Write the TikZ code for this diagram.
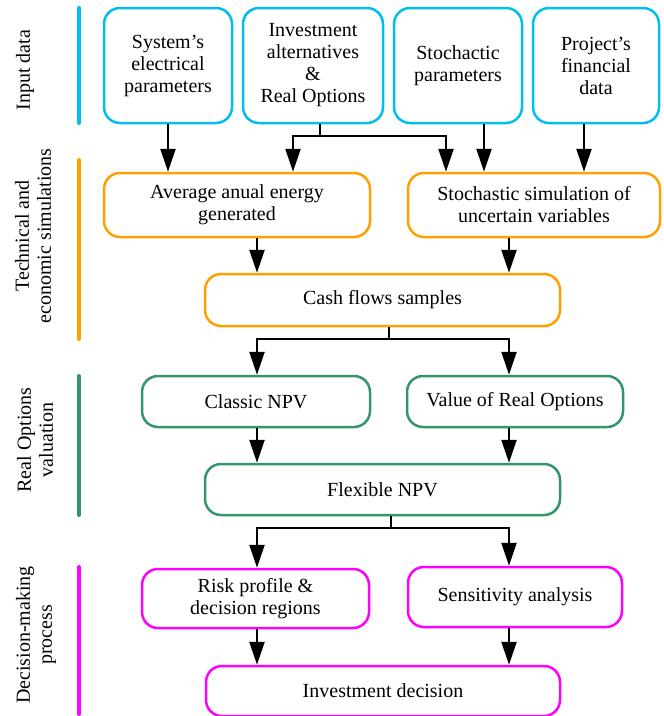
\documentclass[tikz,border=0pt]{standalone}
\usepackage{fontspec}
\setmainfont{Liberation Serif}
\newfontfamily\boxfont{Liberation Serif}
\usetikzlibrary{arrows.meta}
\definecolor{inputcyan}{RGB}{0,190,240}
\definecolor{simorange}{RGB}{255,160,0}
\definecolor{valgreen}{RGB}{52,150,104}
\definecolor{decmagenta}{RGB}{255,0,255}

\begin{document}
\begin{tikzpicture}[x=1pt, y=-1pt, >={Triangle[length=23pt,width=15pt]},
    font=\boxfont\fontsize{20}{22}\selectfont,
    box/.style={draw=#1, line width=2.5pt, rounded corners=16pt, align=center, inner sep=0pt},
    flow/.style={line width=2.4pt, ->},
    link/.style={line width=2.4pt},
    stage/.style={line width=4pt, line cap=round},
    side/.style={rotate=90, align=center}]
  \useasboundingbox (0,0) rectangle (664,716);

  % stage bars and labels
  \draw[stage, inputcyan] (79,8) -- (79,123);
  \draw[stage, simorange] (79,160) -- (79,339);
  \draw[stage, valgreen] (79,376) -- (79,515);
  \draw[stage, decmagenta] (79,567) -- (79,714);
  \node[side] (lblinput) at (25,70) {Input data};
  \node[side] (lblsim) at (33,236) {Technical and\\economic simulations};
  \node[side] (lblval) at (35,440) {Real Options\\valuation};
  \node[side] (lbldec) at (36,635) {Decision-making\\process};

  % input data
  \node[box=inputcyan, minimum width=128, minimum height=115] (sys) at (168,65.5)
    {System’s\\electrical\\parameters};
  \node[box=inputcyan, minimum width=140, minimum height=115] (inv) at (313,65.5)
    {Investment\\alternatives\\\&\\Real Options};
  \node[box=inputcyan, minimum width=128, minimum height=115] (stoch) at (458,65.5)
    {Stochactic\\parameters};
  \node[box=inputcyan, minimum width=126, minimum height=115] (fin) at (596,65.5)
    {Project’s\\financial\\data};

  % simulations
  \node[box=simorange, minimum width=266, minimum height=64] (energy) at (237,205)
    {Average anual energy\\generated};
  \node[box=simorange, minimum width=252, minimum height=64] (sim) at (534,205)
    {Stochastic simulation of\\uncertain variables};
  \node[box=simorange, minimum width=355, minimum height=52] (cash) at (382.5,300)
    {Cash flows samples};

  % valuation
  \node[box=valgreen, minimum width=228, minimum height=51] (classic) at (256,401.5)
    {Classic NPV};
  \node[box=valgreen, minimum width=216, minimum height=51] (value) at (515,401.5)
    {Value of Real Options};
  \node[box=valgreen, minimum width=355, minimum height=51] (flex) at (382.5,489.5)
    {Flexible NPV};

  % decision
  \node[box=decmagenta, minimum width=227, minimum height=59] (risk) at (255.5,598.5)
    {Risk profile \&\\decision regions};
  \node[box=decmagenta, minimum width=214, minimum height=60] (sens) at (515,597)
    {Sensitivity analysis};
  \node[box=decmagenta, minimum width=354, minimum height=50] (invest) at (383,691)
    {Investment decision};

  % connectors
  \coordinate (colL) at (257,0);
  \coordinate (colR) at (509,0);
  \coordinate (invjoin) at (320,136);
  \coordinate (cashjoin) at (389,339);
  \coordinate (flexjoin) at (391,528);

  \draw[flow] (sys.south) -- (sys.south |- energy.north);
  \draw[link] (invjoin |- inv.south) -- (invjoin);
  \draw[flow] (invjoin) -| ([xshift=56]energy.north);
  \draw[flow] (invjoin) -| ([xshift=-88]sim.north);
  \draw[flow] ([xshift=26]stoch.south) -- ([xshift=26]stoch.south |- sim.north);
  \draw[flow] ([xshift=-12]fin.south) -- ([xshift=-12]fin.south |- sim.north);

  \draw[flow] (energy.south -| colL) -- (cash.north -| colL);
  \draw[flow] (sim.south -| colR) -- (cash.north -| colR);
  \draw[link] (cash.south -| cashjoin) -- (cashjoin);
  \draw[flow] (cashjoin) -| (classic.north -| colL);
  \draw[flow] (cashjoin) -| (value.north -| colR);

  \draw[flow] (classic.south -| colL) -- (flex.north -| colL);
  \draw[flow] (value.south -| colR) -- (flex.north -| colR);
  \draw[link] (flex.south -| flexjoin) -- (flexjoin);
  \draw[flow] (flexjoin) -| (risk.north -| colL);
  \draw[flow] (flexjoin) -| (sens.north -| colR);

  \draw[flow] (risk.south -| colL) -- (invest.north -| colL);
  \draw[flow] (sens.south -| colR) -- (invest.north -| colR);
\end{tikzpicture}
\end{document}
